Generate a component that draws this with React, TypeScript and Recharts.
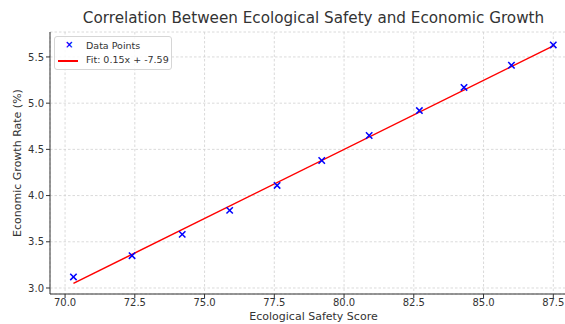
import { ComposedChart, Scatter, Line, XAxis, YAxis, CartesianGrid } from 'recharts'

// ecological safety score vs economic growth rate (%)
const scores = [70.3, 72.4, 74.2, 75.9, 77.6, 79.2, 80.9, 82.7, 84.3, 86.0, 87.5]
const growth = [3.12, 3.35, 3.58, 3.84, 4.11, 4.38, 4.65, 4.92, 5.17, 5.41, 5.63]

// fitted line end points
const fitScores = [70.3, 87.5]
const fitGrowth = [3.05, 5.62]

const xTicks = [70, 72.5, 75, 77.5, 80, 82.5, 85, 87.5]
const yTicks = [3.0, 3.5, 4.0, 4.5, 5.0, 5.5]

const FONT = '"DejaVu Sans", sans-serif'
const TEXT = '#333333'

const points = scores.map((x, i) => ({ x, y: growth[i] }))
const fit = fitScores.map((x, i) => ({ x, y: fitGrowth[i] }))

const Cross = (props: any) => {
  const { cx, cy } = props
  if (cx == null || cy == null) return null
  const r = 3.2
  return (
    <g stroke="#0000ff" strokeWidth={1.5}>
      <line x1={cx - r} y1={cy - r} x2={cx + r} y2={cy + r} />
      <line x1={cx - r} y1={cy + r} x2={cx + r} y2={cy - r} />
    </g>
  )
}

export default function App() {
  const tick = { fill: TEXT, fontSize: 10, fontFamily: FONT }

  return (
    <div style={{ position: 'absolute', left: 0, top: 0, width: 565, height: 324, overflow: 'hidden', background: '#fff', fontFamily: FONT }}>
      <div style={{ position: 'absolute', left: 0, width: 627, top: 9, textAlign: 'center', fontSize: 15.2, color: TEXT, whiteSpace: 'nowrap' }}>
        Correlation Between Ecological Safety and Economic Growth
      </div>

      <ComposedChart width={578} height={324} margin={{ top: 32, right: 1, bottom: 0, left: 0 }}>
        <CartesianGrid stroke="#d0d0d0" strokeWidth={0.8} strokeDasharray="2.5 2" />
        <XAxis
          type="number"
          dataKey="x"
          domain={[69.46, 88.35]}
          ticks={xTicks}
          tickFormatter={(v: number) => v.toFixed(1)}
          allowDataOverflow
          height={30}
          tick={tick}
          tickSize={4}
          tickMargin={1}
          axisLine={{ stroke: TEXT }}
          tickLine={{ stroke: TEXT }}
        />
        <YAxis
          type="number"
          dataKey="y"
          domain={[2.935, 5.77]}
          ticks={yTicks}
          tickFormatter={(v: number) => v.toFixed(1)}
          allowDataOverflow
          width={50}
          tick={tick}
          tickSize={4}
          tickMargin={2}
          axisLine={{ stroke: TEXT }}
          tickLine={{ stroke: TEXT }}
        />
        <Line
          data={fit}
          dataKey="y"
          type="linear"
          stroke="#ff0000"
          strokeWidth={1.5}
          dot={false}
          activeDot={false}
          isAnimationActive={false}
        />
        <Scatter data={points} dataKey="y" shape={<Cross />} isAnimationActive={false} />
      </ComposedChart>

      <div style={{ position: 'absolute', left: 0, width: 627, top: 310, textAlign: 'center', fontSize: 11, color: TEXT }}>
        Ecological Safety Score
      </div>
      <div
        style={{
          position: 'absolute',
          left: 17,
          top: 163,
          transform: 'translate(-50%, -50%) rotate(-90deg)',
          fontSize: 11,
          color: TEXT,
          whiteSpace: 'nowrap',
        }}
      >
        Economic Growth Rate (%)
      </div>

      <div
        style={{
          position: 'absolute',
          left: 54,
          top: 36,
          width: 116,
          height: 32,
          border: '1px solid #d6d6d6',
          borderRadius: 3,
          background: 'rgba(255,255,255,0.85)',
          fontSize: 9.5,
          color: TEXT,
        }}
      >
        <div style={{ position: 'absolute', left: 10, top: 2, color: '#0000ff', fontWeight: 'bold', fontSize: 10 }}>×</div>
        <div style={{ position: 'absolute', left: 31, top: 3 }}>Data Points</div>
        <div style={{ position: 'absolute', left: 3, top: 23, width: 20, height: 1.5, background: '#ff0000' }} />
        <div style={{ position: 'absolute', left: 31, top: 17 }}>Fit: 0.15x + -7.59</div>
      </div>
    </div>
  )
}
